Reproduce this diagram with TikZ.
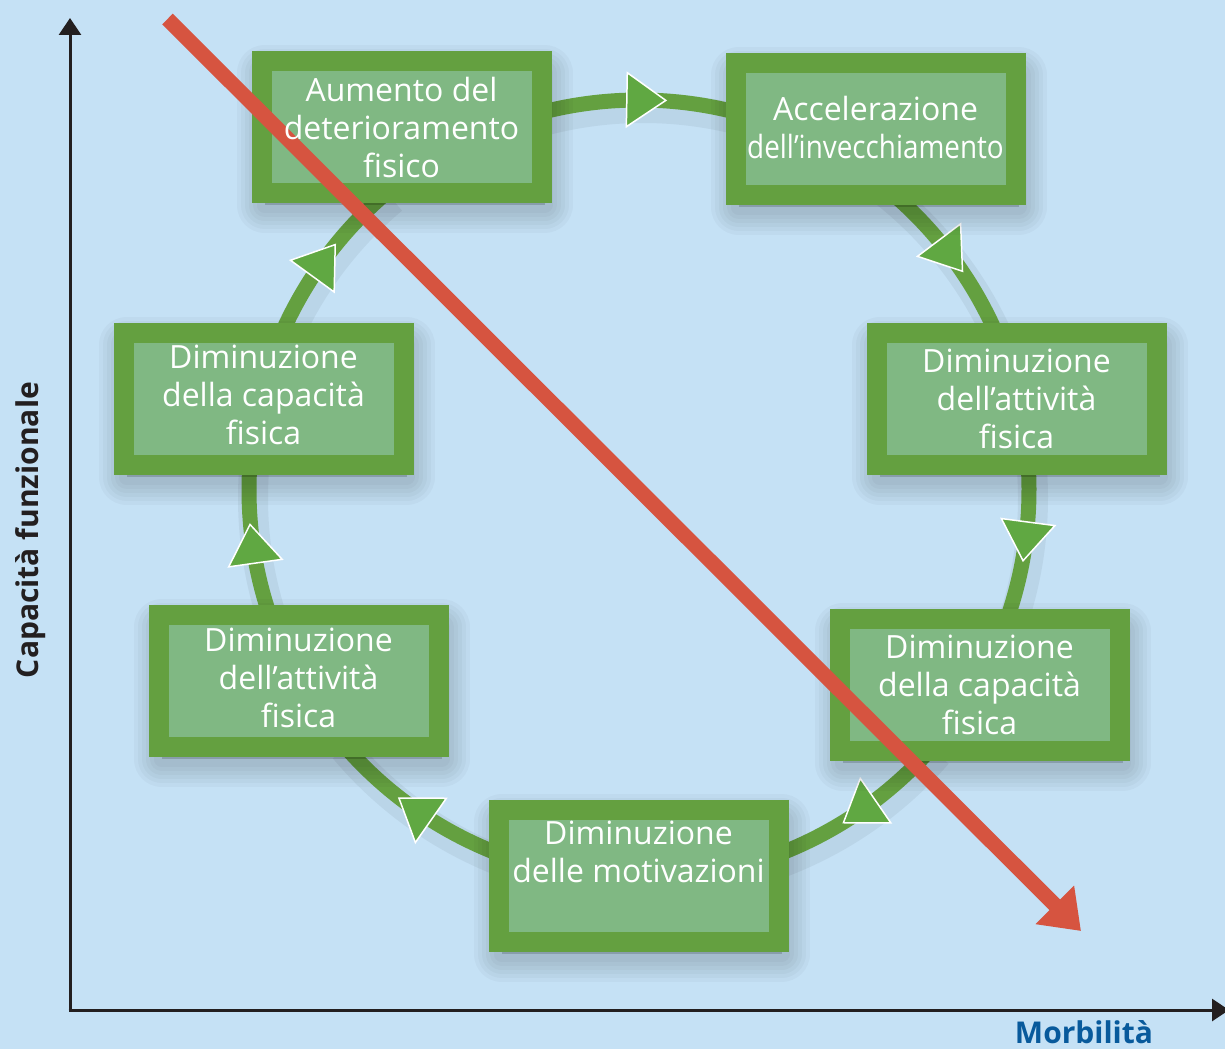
\documentclass[tikz,border=0pt]{standalone}
\usepackage{fontspec}
\setmainfont{Open Sans}
\usetikzlibrary{arrows.meta, calc, decorations.markings, shadows}

\definecolor{bgblue}{RGB}{197,225,245}
\definecolor{framegreen}{RGB}{100,160,64}
\definecolor{innergreen}{RGB}{128,184,131}
\definecolor{tipgreen}{RGB}{96,168,66}
\definecolor{redline}{RGB}{214,84,64}
\definecolor{axisblack}{RGB}{35,31,32}
\definecolor{labelblue}{RGB}{8,90,156}

\tikzset{
    shadowlayer/.style={general shadow={shadow xshift=3pt, shadow yshift=-12pt,
        fill=black, draw=black, line join=round, line width=#1, opacity=0.028}},
}

\begin{document}
\begin{tikzpicture}[
    x=1pt, y=1pt,
    softshadow/.style={shadowlayer=16pt, shadowlayer=24pt, shadowlayer=32pt,
        shadowlayer=40pt, shadowlayer=48pt, shadowlayer=56pt},
    box/.style={draw=framegreen, fill=innergreen, line width=20pt, softshadow,
        minimum width=280pt, minimum height=132pt, inner sep=0pt, outer sep=0pt},
    boxtext/.style={text=white, align=center, font=\fontsize{32}{38}\selectfont},
    ring/.style={draw=framegreen, line width=15pt,
        preaction={draw=black, opacity=0.05, line width=30pt,
            transform canvas={shift={(4pt,-8pt)}}},
        postaction={decorate},
        decoration={markings, mark=at position 0.5 with {
            \filldraw[fill=tipgreen, draw=white, line width=1.5pt]
                (20,0) -- (-19,27) -- (-19,-27) -- cycle;}}},
    axis/.style={draw=axisblack, line width=3pt, -{Triangle[length=17pt,width=22pt]}},
    axislabel/.style={font=\bfseries\fontsize{30}{36}\selectfont, anchor=base},
]

    \useasboundingbox (0,0) rectangle (1225,-1049);
    \fill[bgblue] (0,0) rectangle (1225,-1049);

    % axes
    \coordinate (org)  at (70,-1010);
    \coordinate (ytop) at (70,-18);
    \coordinate (xend) at (1229,-1010);
    \draw[axis] ([yshift=-1.5pt]org) -- (ytop);
    \draw[axis] ([xshift=-1.5pt]org) -- (xend);
    \node[axislabel, rotate=90, text=axisblack] (ylab) at (38,-530) {Capacità funzionale};
    \node[axislabel, text=labelblue] (xlab) at (1084,-1043) {Morbilità};

    % cycle
    \coordinate (O) at (639,-490);
    \foreach \a/\b in {108/70, 52/22, 5/-20, -41/-70, 250/220, 200/176, 158/130}
        \draw[ring] ($(O)+(\a:390)$) arc[start angle=\a, end angle=\b, radius=390];

    \node[box] (deter)   at (401.5,-127) {};
    \node[box] (invecch) at (875.5,-129) {};
    \node[box] (attivR)  at (1016.5,-399) {};
    \node[box] (capacR)  at (979.5,-685) {};
    \node[box] (motiv)   at (638.5,-876) {};
    \node[box] (attivL)  at (298.5,-681) {};
    \node[box] (capacL)  at (263.5,-399) {};

    % trend
    \coordinate (r0) at (167.5,-19);
    \coordinate (r1) at (1081,-931);
    \draw[redline, line width=15pt, -{Triangle[length=37pt,width=52pt]}] (r0) -- (r1);

    \node[boxtext] (deter-t)   at (deter)   {Aumento del\\deterioramento\\fisico};
    \node[boxtext] (invecch-t) at ([yshift=2pt]invecch)
        {Accelerazione\\\scalebox{0.87}[1]{dell’invecchiamento}};
    \node[boxtext] (attivR-t)  at (attivR)  {Diminuzione\\dell’attività\\fisica};
    \node[boxtext] (capacR-t)  at (capacR)  {Diminuzione\\della capacità\\fisica};
    \node[boxtext] (motiv-t)   at ([yshift=24pt]motiv) {Diminuzione\\delle motivazioni};
    \node[boxtext] (attivL-t)  at ([yshift=3pt]attivL)  {Diminuzione\\dell’attività\\fisica};
    \node[boxtext] (capacL-t)  at ([yshift=4pt]capacL)  {Diminuzione\\della capacità\\fisica};

\end{tikzpicture}
\end{document}
